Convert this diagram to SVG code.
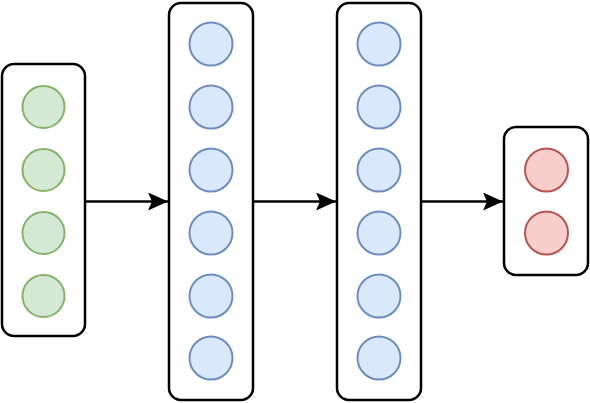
<svg xmlns="http://www.w3.org/2000/svg" width="590" height="403" viewBox="0 0 590 403">
<defs>
<style>
.box{fill:#fff;stroke:#000;stroke-width:2.5}
.g{fill:#d5e8d4;stroke:#82b366;stroke-width:2}
.b{fill:#dae8fc;stroke:#6c8ebf;stroke-width:2}
.r{fill:#f8cecc;stroke:#b85450;stroke-width:2}
.edge{stroke:#000;stroke-width:2.5;fill:none}
</style>
<marker id="ah" viewBox="0 0 20 18" refX="20" refY="9" markerWidth="20" markerHeight="18" markerUnits="userSpaceOnUse" orient="auto">
<path d="M0,0 L20,9 L0,18 L4,9 Z" fill="#000"/>
</marker>
</defs>
<g id="input">
<rect class="box" x="2" y="64" width="83" height="272" rx="12"/>
<circle class="g" cx="43.5" cy="107" r="21"/>
<circle class="g" cx="43.5" cy="170" r="21"/>
<circle class="g" cx="43.5" cy="233" r="21"/>
<circle class="g" cx="43.5" cy="296" r="21"/>
</g>
<g id="hidden1">
<rect class="box" x="169" y="3" width="84" height="397" rx="12"/>
<circle class="b" cx="211" cy="44" r="21.5"/>
<circle class="b" cx="211" cy="107" r="21.5"/>
<circle class="b" cx="211" cy="170" r="21.5"/>
<circle class="b" cx="211" cy="233" r="21.5"/>
<circle class="b" cx="211" cy="296" r="21.5"/>
<circle class="b" cx="211" cy="358" r="21.5"/>
</g>
<g id="hidden2">
<rect class="box" x="337" y="3" width="84" height="397" rx="12"/>
<circle class="b" cx="379" cy="44" r="21.5"/>
<circle class="b" cx="379" cy="107" r="21.5"/>
<circle class="b" cx="379" cy="170" r="21.5"/>
<circle class="b" cx="379" cy="233" r="21.5"/>
<circle class="b" cx="379" cy="296" r="21.5"/>
<circle class="b" cx="379" cy="358" r="21.5"/>
</g>
<g id="output">
<rect class="box" x="504" y="127" width="84" height="148" rx="12"/>
<circle class="r" cx="546.5" cy="170" r="21.5"/>
<circle class="r" cx="546.5" cy="233" r="21.5"/>
</g>
<g id="connectors">
<line class="edge" x1="85" y1="201.5" x2="168" y2="201.5" marker-end="url(#ah)"/>
<line class="edge" x1="253" y1="201.5" x2="336" y2="201.5" marker-end="url(#ah)"/>
<line class="edge" x1="421" y1="201.5" x2="503" y2="201.5" marker-end="url(#ah)"/>
</g>
</svg>
